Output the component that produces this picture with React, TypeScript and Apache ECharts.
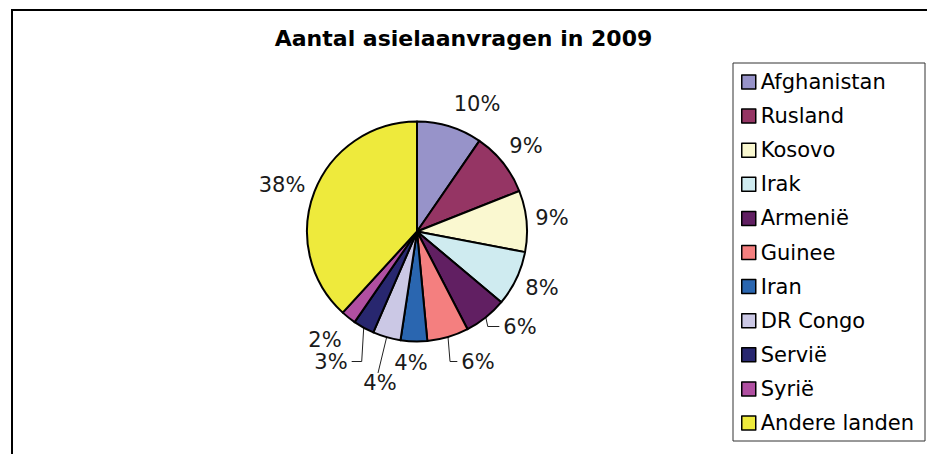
import React, { useEffect, useRef } from 'react';
import * as echarts from 'echarts';

const TITLE = 'Aantal asielaanvragen in 2009';
const categories = ['Afghanistan', 'Rusland', 'Kosovo', 'Irak', 'Armenië', 'Guinee', 'Iran', 'DR Congo', 'Servië', 'Syrië', 'Andere landen'];
const shares = [9.6, 9.4, 9.0, 8.1, 6.3, 6.1, 3.9, 4.1, 3.1, 2.2, 38.2];
const colors = ['#9793C9', '#953564', '#FAF8D0', '#CFEBF0', '#611F62', '#F47F7F', '#2A66B0', '#CBC8E5', '#28276F', '#B04FA1', '#EEEA3C'];

// layout (not data): label centres relative to pie centre, and leader line kind
const CX = 417;
const CY = 231.5;
const R = 110;
const labelOffsets = [[60, -128], [109, -86], [135, -14], [125, 56], [103, 95], [61, 130], [-6, 131], [-37, 151], [-86, 130], [-92, 108], [-135, -47]];
const leaderKind = ['none', 'none', 'none', 'none', 'side', 'side', 'none', 'top', 'side', 'none', 'none'];

const FONT = "'DejaVu Sans', Verdana, sans-serif";

export default function App() {
  const ref = useRef<HTMLDivElement>(null);
  useEffect(() => {
    if (!ref.current) return;
    const chart = echarts.init(ref.current, undefined, { renderer: 'svg' });
    const data = categories.map((name, i) => ({
      name,
      value: shares[i],
      itemStyle: { color: colors[i] },
      labelLine: { show: leaderKind[i] !== 'none' },
    }));
    chart.setOption({
      animation: false,
      backgroundColor: '#fff',
      title: {
        text: TITLE,
        left: 'center',
        top: 27,
        padding: 0,
        textStyle: { fontFamily: FONT, fontSize: 22, fontWeight: 'bold', color: '#000' },
      },
      legend: {
        orient: 'vertical',
        left: 733,
        top: 63,
        padding: [8.5, 11, 7.5, 8],
        itemGap: 13.1,
        itemWidth: 14,
        itemHeight: 14,
        icon: 'rect',
        borderColor: '#333',
        borderWidth: 1,
        backgroundColor: '#fff',
        itemStyle: { borderColor: '#000', borderWidth: 1.5 },
        textStyle: { fontFamily: FONT, fontSize: 21, lineHeight: 21, color: '#000' },
        data: categories,
        selectedMode: false,
      },
      graphic: [
        {
          type: 'polyline',
          shape: { points: [[927, 10], [12, 10], [12, 454]] },
          style: { stroke: '#000', lineWidth: 2, fill: null },
          silent: true,
        },
      ],
      series: [
        {
          type: 'pie',
          center: [CX, CY],
          radius: R,
          startAngle: 90,
          clockwise: true,
          avoidLabelOverlap: false,
          itemStyle: { borderColor: '#000', borderWidth: 2 },
          emphasis: { disabled: true },
          label: {
            show: true,
            position: 'outside',
            fontFamily: FONT,
            fontSize: 21,
            color: '#1a1a1a',
            formatter: (p: any) => Math.round(p.percent) + '%',
          },
          labelLine: { show: false, length: 10, length2: 5, lineStyle: { color: '#222', width: 1 } },
          labelLayout: (params: any) => {
            const i = params.dataIndex;
            const [ox, oy] = labelOffsets[i];
            const x = CX + ox;
            const y = CY + oy;
            const res: any = { x, y, align: 'center', verticalAlign: 'middle' };
            const kind = leaderKind[i];
            const pts = params.labelLinePoints;
            if (kind !== 'none' && pts && pts.length) {
              const e = pts[0];
              const w = params.labelRect.width;
              const h = params.labelRect.height;
              if (kind === 'side') {
                const s = ox >= 0 ? 1 : -1;
                res.labelLinePoints = [[e[0], e[1]], [e[0] + s * 2, y], [x - s * (w / 2 + 4), y]];
              } else {
                res.labelLinePoints = [[e[0], e[1]], [x - 2, y - h / 2 + 1], [x - 2, y - h / 2 + 1]];
              }
            }
            return res;
          },
          data,
        },
      ],
    });
    return () => chart.dispose();
  }, []);
  return <div ref={ref} style={{ position: 'fixed', left: 0, top: 0, width: 927, height: 454 }} />;
}
